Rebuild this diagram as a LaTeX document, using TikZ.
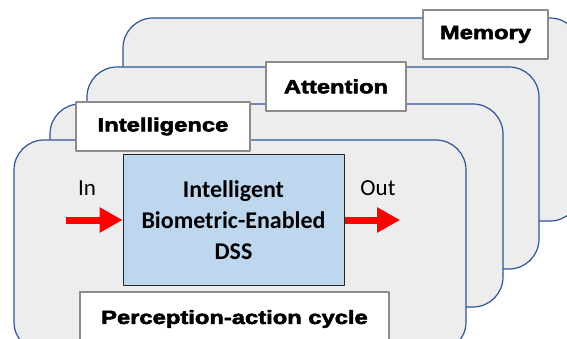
\documentclass[tikz,border=0pt]{standalone}
\usepackage{fontspec}
\setmainfont{Carlito}
\newfontfamily\heavyfont[FakeBold=3,FakeStretch=1.25]{Liberation Sans}
\usetikzlibrary{arrows.meta,positioning}
\definecolor{cardfill}{HTML}{EDEDED}
\definecolor{cardline}{HTML}{2F5597}
\definecolor{tagline}{HTML}{8C8C8C}
\definecolor{dssfill}{HTML}{BDD7EE}
\begin{document}
\begin{tikzpicture}[x=1pt, y=-1pt, line join=round,
	card/.style={draw=cardline, fill=cardfill, line width=1.2pt, rounded corners=30pt},
	tag/.style={draw=tagline, fill=white, line width=1.3pt, inner sep=0pt, font=\heavyfont\bfseries\fontsize{19}{23}\selectfont},
	bigarrow/.style={red, line width=7pt, -{Triangle[length=23pt, width=24pt]}}]
		\useasboundingbox (0,0) rectangle (567,339);
		\clip (0,0) rectangle (567,339);
		\foreach \l/\t/\r/\b in {123/18/580/221, 87/67/539/269, 50/104/503/307, 14/140/466/352}
			\path[card] (\l,\t) rectangle (\r,\b);
		\node[tag, minimum width=125pt, minimum height=49pt] (memory) at (485.5,34.5) {Memory};
		\node[tag, minimum width=140pt, minimum height=49pt] (attention) at (336,86.5) {Attention};
		\node[tag, minimum width=174pt, minimum height=49pt] (intelligence) at (163,126.5) {Intelligence};
		\node[draw=black!85, fill=dssfill, line width=1pt, minimum width=221pt, minimum height=130pt, align=center,
			font=\bfseries\fontsize{24}{31}\selectfont] (dss) at (233.5,220) {Intelligent\\Biometric-Enabled\\DSS};
		\coordinate (inTail) at (66,220);
		\coordinate (outTip) at (400,220);
		\draw[bigarrow] (inTail) -- (dss.west);
		\draw[bigarrow] (dss.east) -- (outTip);
		\node[anchor=base, font=\fontsize{23}{27}\selectfont] (inlabel) at (87,195) {In};
		\node[anchor=base, font=\fontsize{23}{27}\selectfont] (outlabel) at (378,195) {Out};
		\node[tag, minimum width=309pt, minimum height=54pt] (cycle) at (234.5,319) {Perception-action cycle};
\end{tikzpicture}
\end{document}
